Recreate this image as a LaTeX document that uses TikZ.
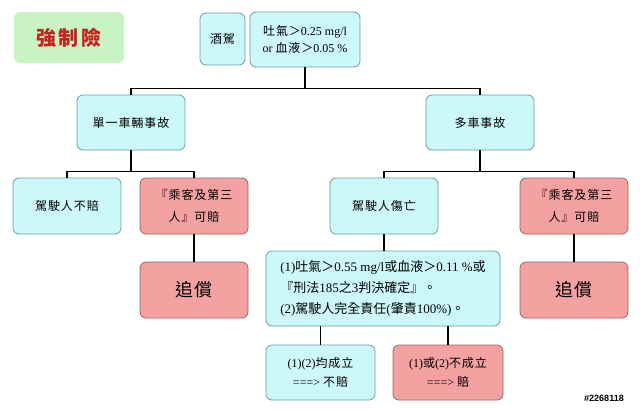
\documentclass[tikz,border=0pt]{standalone}
\usepackage{fontspec}
\setmainfont{Liberation Serif}
\newfontfamily\cjk{Noto Sans CJK TC}[LetterSpace=8]
\newfontfamily\cjktight{Noto Sans CJK TC}
\newfontfamily\cjkwide{Noto Sans CJK TC}[LetterSpace=12]
\newfontfamily\marksf{Liberation Sans}
\definecolor{pale-cyan}{HTML}{CCF8FA}
\definecolor{cyan-edge}{HTML}{6E9DA4}
\definecolor{rose}{HTML}{F4A1A1}
\definecolor{rose-edge}{HTML}{9C6464}
\definecolor{pale-green}{HTML}{C8F4C4}
\definecolor{title-red}{HTML}{C8221C}

\begin{document}
\begin{tikzpicture}[
    x=1pt, y=-1pt,
    box/.style={
        draw=cyan-edge, fill=pale-cyan, rounded corners=6pt,
        line width=0.8pt, align=center, inner sep=2pt,
        minimum width=108pt, minimum height=56pt,
        font=\fontsize{12}{22}\selectfont,
    },
    redbox/.style={ box, draw=rose-edge, fill=rose, },
    link/.style={ line width=1.3pt, },
]
\useasboundingbox (0,0) rectangle (640,408);

\node[box, draw=none, fill=pale-green, minimum width=110pt, minimum height=51pt,
      text=title-red, font=\fontsize{20}{24}\selectfont\bfseries]
    (title) at (69,37.5) {\cjkwide 強制險};
\node[box, minimum width=45pt, minimum height=52pt] (drunk) at (222.5,39) {\cjk 酒駕};
\node[box, minimum width=110pt, minimum height=55pt, font=\fontsize{12}{17}\selectfont]
    (cond) at (305,39.5) {{\cjk 吐氣＞}0.25 mg/l\\or {\cjk 血液＞}0.05 \%};

\node[box, minimum height=55pt] (single) at (131,122.5) {\cjk 單一車輛事故};
\node[box, minimum height=55pt] (multi) at (480,122.5) {\cjk 多車事故};

\node[box] (nopay) at (67,206) {\cjk 駕駛人不賠};
\node[redbox] (pass1) at (194,206) {{\cjk 『乘客及第三}\\{\cjk 人』可賠}};
\node[redbox, font=\fontsize{18}{22}\selectfont] (recov1) at (194,290) {\cjk 追償};

\node[box] (injury) at (384,206) {\cjk 駕駛人傷亡};
\node[redbox] (pass2) at (574,206) {{\cjk 『乘客及第三}\\{\cjk 人』可賠}};
\node[redbox, font=\fontsize{18}{22}\selectfont] (recov2) at (574,290) {\cjk 追償};

\node[box, align=left, minimum width=234pt, minimum height=75pt,
      font=\fontsize{13}{21}\selectfont]
    (detail) at (383,288.5)
    {(1){\cjktight 吐氣＞}0.55 mg/l{\cjktight 或血液＞}0.11 \%{\cjktight 或}\\
     {\cjktight 『刑法}185{\cjktight 之}3{\cjktight 判決確定』。}\\
     (2){\cjktight 駕駛人完全責任}({\cjktight 肇責}100\%){\cjktight 。}};

\node[box, minimum width=109pt, minimum height=55pt, font=\fontsize{12}{19}\selectfont]
    (both) at (320.5,372.5) {(1)(2){\cjk 均成立}\\===> {\cjk 不賠}};
\node[redbox, minimum width=110pt, minimum height=55pt, font=\fontsize{12}{19}\selectfont]
    (either) at (448,372.5) {(1){\cjk 或}(2){\cjk 不成立}\\===> {\cjk 賠}};

\node[font=\marksf\bfseries\fontsize{9}{10}\selectfont] (mark) at (604,398) {\#2268118};

% elbow connectors
\foreach \p/\c in {cond/single, cond/multi, single/nopay, single/pass1,
                   multi/injury, multi/pass2}
    \draw[link] (\p.south) -- ++(0,21) -| (\c.north);

% straight connectors
\draw[link] (pass1.south) -- (recov1.north);
\draw[link] (pass2.south) -- (recov2.north);
\draw[link] (injury.south) -- (injury.south |- detail.north);
\draw[link] (detail.south -| both.north) -- (both.north);
\draw[link] (detail.south -| either.north) -- (either.north);
\end{tikzpicture}
\end{document}
